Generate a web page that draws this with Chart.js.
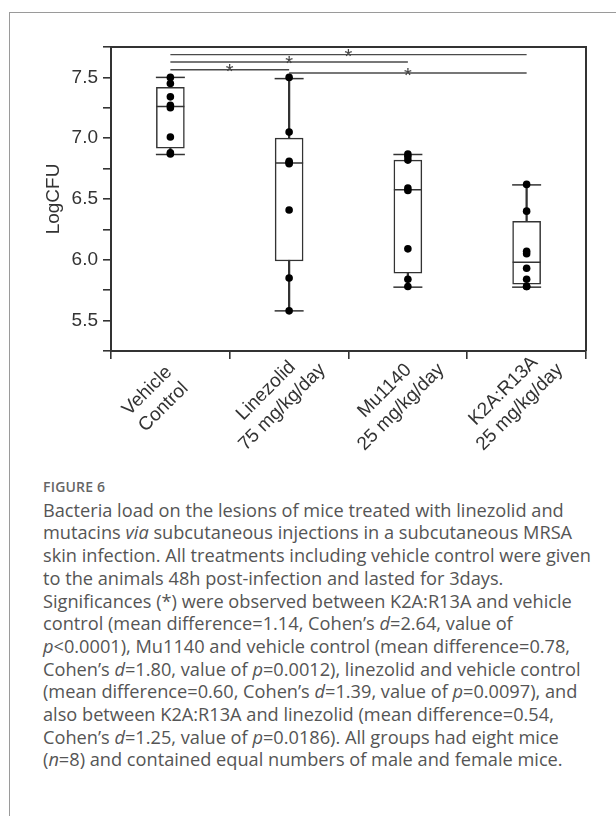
<!DOCTYPE html>
<html>
<head>
<meta charset="utf-8">
<script src="https://cdn.jsdelivr.net/npm/chart.js@4.4.0/dist/chart.umd.min.js"></script>
<style>
    body { margin: 0; background: #fff; }
    .frame {
        position: absolute; left: 9px; top: 12px; right: 0; bottom: 0;
        border-left: 1px solid #9a9a9a; border-top: 1px solid #9a9a9a;
    }
    .chart-box { position: absolute; left: 0; top: 0; width: 616px; height: 470px; }
    .caption {
        position: absolute; left: 43px; top: 476px;
        font-family: 'Open Sans', sans-serif; font-size: 18.2px; line-height: 22.7px;
        color: #555; white-space: nowrap;
    }
    .caption .fig { font-size: 14px; font-weight: 600; color: #666; letter-spacing: 0.2px; }
</style>
</head>
<body>
<div class="frame"></div>
<div class="chart-box"><canvas id="boxChart"></canvas></div>
<div class="caption">
    <div class="fig">FIGURE 6</div>
    <div>Bacteria load on the lesions of mice treated with linezolid and</div>
    <div>mutacins <i>via</i> subcutaneous injections in a subcutaneous MRSA</div>
    <div>skin infection. All treatments including vehicle control were given</div>
    <div>to the animals 48h post-infection and lasted for 3days.</div>
    <div>Significances (*) were observed between K2A:R13A and vehicle</div>
    <div>control (mean difference=1.14, Cohen’s <i>d</i>=2.64, value of</div>
    <div><i>p</i>&lt;0.0001), Mu1140 and vehicle control (mean difference=0.78,</div>
    <div>Cohen’s <i>d</i>=1.80, value of <i>p</i>=0.0012), linezolid and vehicle control</div>
    <div>(mean difference=0.60, Cohen’s <i>d</i>=1.39, value of <i>p</i>=0.0097), and</div>
    <div>also between K2A:R13A and linezolid (mean difference=0.54,</div>
    <div>Cohen’s <i>d</i>=1.25, value of <i>p</i>=0.0186). All groups had eight mice</div>
    <div>(<i>n</i>=8) and contained equal numbers of male and female mice.</div>
</div>
<script>
// Groups (x axis)
const groups = [
    ['Vehicle', 'Control'],
    ['Linezolid', '75 mg/kg/day'],
    ['Mu1140', '25 mg/kg/day'],
    ['K2A:R13A', '25 mg/kg/day']
];

// Individual mice, LogCFU (8 per group)
const vehicle   = [7.50, 7.45, 7.34, 7.27, 7.25, 7.01, 6.88, 6.87];
const linezolid = [7.50, 7.05, 6.81, 6.80, 6.79, 6.41, 5.85, 5.58];
const mu1140    = [6.87, 6.85, 6.82, 6.59, 6.57, 6.09, 5.84, 5.78];
const k2a       = [6.62, 6.40, 6.07, 6.05, 5.93, 5.84, 5.78, 5.78];

// Box plot summary per group
const whiskerHigh = [7.50, 7.49, 6.866, 6.616];
const q3          = [7.418, 7.00, 6.82, 6.316];
const median      = [7.26, 6.796, 6.577, 5.98];
const q1          = [6.918, 5.99, 5.89, 5.80];
const whiskerLow  = [6.866, 5.58, 5.775, 5.775];

// Significance brackets: [from group, to group] and height
const sigPairs  = [[0, 3], [0, 2], [0, 1], [1, 3]];
const sigLevels = [7.687, 7.627, 7.563, 7.536];

// Y axis ticks
const yMin = 5.25, yMax = 7.75, yStep = 0.25;

const lineColor = '#333';
const axisFont = '"Liberation Sans", Arial, sans-serif';
const allGroups = [vehicle, linezolid, mu1140, k2a];

// one dataset per mouse rank so each point lands on its category
const dotDatasets = vehicle.map((_, k) => ({
    type: 'line',
    data: allGroups.map(g => g[k]),
    showLine: false,
    pointRadius: 3.8,
    pointBackgroundColor: '#000',
    pointBorderWidth: 0,
    order: 0
}));

const bracketDatasets = sigPairs.map((pair, i) => ({
    type: 'line',
    data: groups.map((_, g) => (g === pair[0] || g === pair[1]) ? sigLevels[i] : null),
    spanGaps: true,
    borderColor: '#4a4a4a',
    borderWidth: 1.4,
    pointRadius: 0,
    order: 5
}));

const framePlugin = {
    id: 'frame',
    afterDatasetsDraw(chart) {
        const { ctx, chartArea: a } = chart;
        ctx.save();
        ctx.strokeStyle = lineColor;
        ctx.lineWidth = 2;
        ctx.beginPath();
        ctx.moveTo(a.left, a.top);
        ctx.lineTo(a.right, a.top);
        ctx.lineTo(a.right, a.bottom);
        ctx.stroke();
        ctx.restore();
    }
};

const starPlugin = {
    id: 'stars',
    afterDatasetsDraw(chart) {
        const { ctx, scales: { x, y } } = chart;
        ctx.save();
        ctx.fillStyle = '#444';
        ctx.font = '20px ' + axisFont;
        ctx.textAlign = 'center';
        ctx.textBaseline = 'alphabetic';
        sigPairs.forEach((pair, i) => {
            const px = (x.getPixelForValue(pair[0]) + x.getPixelForValue(pair[1])) / 2;
            ctx.fillText('*', px, y.getPixelForValue(sigLevels[i]) + 8.5);
        });
        ctx.restore();
    }
};

// rotated, centred two-line category labels
const labelPlugin = {
    id: 'xlabels',
    afterDraw(chart) {
        const { ctx, scales: { x }, chartArea } = chart;
        const lh = 23;
        ctx.save();
        ctx.fillStyle = '#333';
        ctx.font = '19px ' + axisFont;
        ctx.textAlign = 'center';
        ctx.textBaseline = 'middle';
        groups.forEach((lines, i) => {
            ctx.save();
            ctx.translate(x.getPixelForValue(i) - 15, chartArea.bottom + 48);
            ctx.rotate(-Math.PI / 4);
            lines.forEach((line, j) => ctx.fillText(line, 0, (j - (lines.length - 1) / 2) * lh));
            ctx.restore();
        });
        ctx.restore();
    }
};

const ctx = document.getElementById('boxChart').getContext('2d');
const boxChart = new Chart(ctx, {
    type: 'bar',
    data: {
        labels: groups,
        datasets: [
            ...dotDatasets,
            {
                type: 'line',
                data: median,
                showLine: false,
                pointStyle: 'line',
                pointRadius: 14,
                pointBorderColor: lineColor,
                pointBorderWidth: 1.5,
                order: 1
            },
            {
                type: 'line',
                data: whiskerHigh,
                showLine: false,
                pointStyle: 'line',
                pointRadius: 14.5,
                pointBorderColor: lineColor,
                pointBorderWidth: 1.5,
                order: 2
            },
            {
                type: 'line',
                data: whiskerLow,
                showLine: false,
                pointStyle: 'line',
                pointRadius: 14.5,
                pointBorderColor: lineColor,
                pointBorderWidth: 1.5,
                order: 2
            },
            {
                // boxes q1..q3
                data: groups.map((_, i) => [q1[i], q3[i]]),
                backgroundColor: '#fff',
                borderColor: lineColor,
                borderWidth: 1.5,
                borderSkipped: false,
                barThickness: 28,
                grouped: false,
                order: 3
            },
            {
                // whiskers
                data: groups.map((_, i) => [whiskerLow[i], whiskerHigh[i]]),
                backgroundColor: lineColor,
                borderWidth: 0,
                barThickness: 1.6,
                grouped: false,
                order: 4
            },
            ...bracketDatasets
        ]
    },
    options: {
        responsive: true,
        maintainAspectRatio: false,
        animation: false,
        events: [],
        layout: { padding: { top: 47, right: 30, left: 0, bottom: 0 } },
        scales: {
            x: {
                type: 'category',
                offset: true,
                grid: { offset: true, drawOnChartArea: false, tickLength: 8, color: lineColor, lineWidth: 1.6 },
                border: { display: true, color: lineColor, width: 2 },
                ticks: { display: false },
                afterFit: scale => { scale.height = 119; }
            },
            y: {
                min: yMin,
                max: yMax,
                grid: { drawOnChartArea: false, tickLength: 8, color: lineColor, lineWidth: 1.6 },
                border: { display: true, color: lineColor, width: 2 },
                ticks: {
                    stepSize: yStep,
                    padding: 5,
                    color: '#333',
                    font: { family: axisFont, size: 19 },
                    callback: function (value) {
                        return Math.abs(value * 2 - Math.round(value * 2)) < 1e-6 ? value.toFixed(1) : '';
                    }
                },
                title: {
                    display: true,
                    text: 'LogCFU',
                    color: '#333',
                    padding: { top: 42, bottom: 0 },
                    font: { family: axisFont, size: 19 }
                },
                afterFit: scale => { scale.width = 111; }
            }
        },
        plugins: {
            legend: { display: false },
            tooltip: { enabled: false }
        }
    },
    plugins: [framePlugin, starPlugin, labelPlugin]
});
</script>
</body>
</html>
